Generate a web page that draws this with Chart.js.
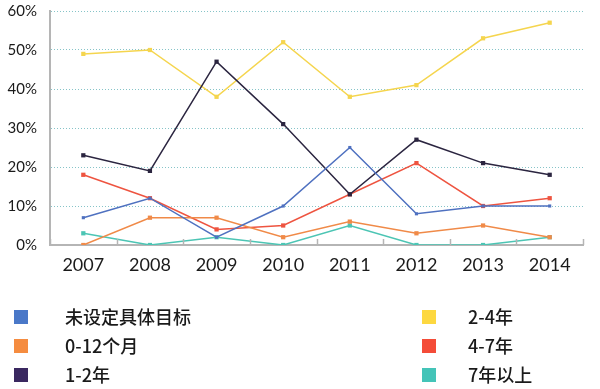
<!DOCTYPE html>
<html><head><meta charset="utf-8">
<script src="https://cdn.jsdelivr.net/npm/chart.js@4/dist/chart.umd.min.js"></script>
<style>html,body{margin:0;padding:0;background:#fff;}#wrap{width:600px;height:389px;position:relative;}</style>
</head><body><div id="wrap"><canvas id="c" width="600" height="389"></canvas></div>
<script>
// ---- data ----
const years = ['2007','2008','2009','2010','2011','2012','2013','2014'];
const seriesNames = ['未设定具体目标','0-12个月','1-2年','2-4年','4-7年','7年以上'];
const noGoal  = [7, 12, 2, 10, 25, 8, 10, 10];
const m0to12  = [0, 7, 7, 2, 6, 3, 5, 2];
const y1to2   = [23, 19, 47, 31, 13, 27, 21, 18];
const y2to4   = [49, 50, 38, 52, 38, 41, 53, 57];
const y4to7   = [18, 12, 4, 5, 13, 21, 10, 12];
const y7plus  = [3, 0, 2, 0, 5, 0, 0, 2];
const yTickValues = [0, 10, 20, 30, 40, 50, 60];

const seriesData = [noGoal, m0to12, y1to2, y2to4, y4to7, y7plus];
const lineColors = ['#4f71c0','#f08a48','#2b2540','#f5d54e','#ee5440','#4cc5b4'];
const swatchColors = ['#4a78c8','#f58c40','#3a2860','#fdd840','#f44c38','#44c4b8'];

const datasets = seriesData.map((d, i) => ({
  label: seriesNames[i],
  data: d,
  borderColor: lineColors[i],
  backgroundColor: lineColors[i],
  borderWidth: 1.5,
  pointStyle: 'rect',
  pointRadius: i === 0 ? 2.2 : 3,
  pointBorderWidth: 0,
  tension: 0,
  fill: false
}));

const innerTicks = {
  id: 'innerTicks',
  afterDraw(chart) {
    const x = chart.scales.x, ctx = chart.ctx, b = chart.chartArea.bottom;
    ctx.save();
    ctx.strokeStyle = '#b5b5b5';
    ctx.lineWidth = 1.5;
    for (let i = 0; i <= years.length; i++) {
      const px = Math.round(x.getPixelForValue(i - 0.5)) + 0.5;
      ctx.beginPath(); ctx.moveTo(px, b - 6); ctx.lineTo(px, b); ctx.stroke();
    }
    ctx.restore();
  }
};

const customLegend = {
  id: 'customLegend',
  afterDraw(chart) {
    const ctx = chart.ctx;
    ctx.save();
    ctx.font = '500 18px "Noto Sans CJK SC", "Noto Sans", sans-serif';
    ctx.textBaseline = 'middle';
    chart.data.datasets.forEach((ds, i) => {
      const col = Math.floor(i / 3), row = i % 3;
      const cy = 317 + row * 29;
      const sx = col === 0 ? 14 : 422;
      const tx = col === 0 ? 65 : 468;
      ctx.fillStyle = swatchColors[i];
      ctx.fillRect(sx, cy - 7, 14, 14);
      ctx.fillStyle = '#1a1a1a';
      ctx.fillText(ds.label, tx, cy);
    });
    ctx.restore();
  }
};

new Chart(document.getElementById('c'), {
  type: 'line',
  data: { labels: years, datasets },
  options: {
    responsive: false,
    animation: false,
    devicePixelRatio: 1,
    layout: { padding: { top: 0, right: 17, bottom: 0, left: 0 } },
    plugins: { legend: { display: false }, tooltip: { enabled: false } },
    scales: {
      x: {
        offset: true,
        grid: { display: false, drawTicks: false },
        border: { display: true, color: '#b5b5b5', width: 2 },
        ticks: { color: '#1a1a1a', font: { family: 'Lato, "DejaVu Sans", sans-serif', size: 18 }, padding: 9, maxRotation: 0 },
        afterFit(s) { s.height = 144; }
      },
      y: {
        min: 0, max: 60,
        afterBuildTicks(s) { s.ticks = yTickValues.map(v => ({ value: v })); },
        grid: {
          drawTicks: true,
          tickLength: 11,
          tickColor: 'rgba(0,0,0,0)',
          color: ctx => ctx.tick && ctx.tick.value === 0 ? 'rgba(0,0,0,0)' : '#86c4c8',
          lineWidth: 1
        },
        border: { display: true, color: '#b5b5b5', width: 2, dash: [1, 2] },
        ticks: { color: '#1a1a1a', font: { family: 'Lato, "DejaVu Sans", sans-serif', size: 15 }, padding: 2, callback: v => v + '%' },
        afterFit(s) { s.width = 50; }
      }
    }
  },
  plugins: [innerTicks, customLegend]
});
</script>
</body></html>
